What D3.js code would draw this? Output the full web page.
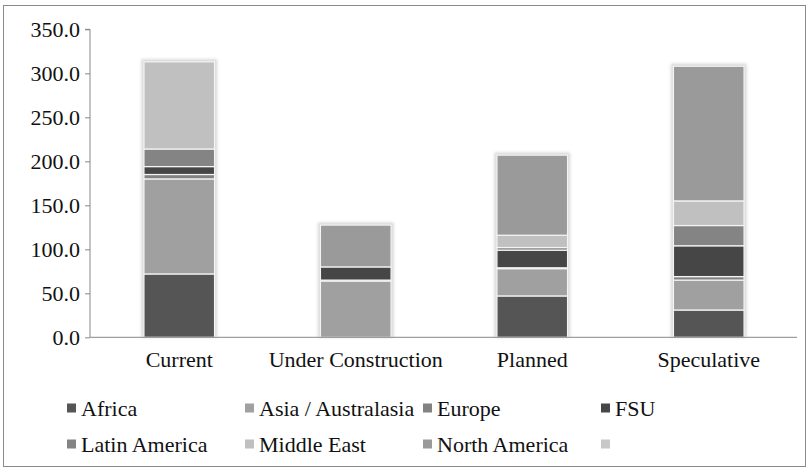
<!DOCTYPE html>
<html><head><meta charset="utf-8">
<script src="https://cdn.jsdelivr.net/npm/d3@7"></script>
<style>body{margin:0;background:#fff}svg{display:block}</style>
</head><body>
<svg id="c" width="809" height="470"></svg>
<script>
const categories = ["Current", "Under Construction", "Planned", "Speculative"];
const seriesNames = ["Africa", "Asia / Australasia", "Europe", "FSU", "Latin America", "Middle East", "North America", ""];
const africa = [72, 0, 47, 31];
const asia = [108, 64, 31, 34];
const europe = [5, 1, 1, 4];
const fsu = [9, 15, 20, 35];
const latinAmerica = [20, 0, 3, 23];
const middleEast = [99, 0, 14, 28];
const northAmerica = [0, 47.5, 91, 153];
const unnamed = [0, 0, 0, 0];
const yTicks = [0, 50, 100, 150, 200, 250, 300, 350];
const colors = ["#555555", "#a0a0a0", "#828282", "#464646", "#848484", "#c0c0c0", "#9a9a9a", "#c8c8c8"];

const seriesValues = [africa, asia, europe, fsu, latinAmerica, middleEast, northAmerica, unnamed];
const rows = categories.map((c, i) => {
  const o = {cat: c};
  seriesNames.forEach((s, j) => o["s" + j] = seriesValues[j][i]);
  return o;
});
const keys = seriesNames.map((s, j) => "s" + j);
const stacked = d3.stack().keys(keys)(rows);

const svg = d3.select("#c");
const fs = 22;
const FONT = '"Liberation Serif"';

svg.append("rect").attr("x", 3.5).attr("y", 5.5).attr("width", 802).attr("height", 461)
  .attr("fill", "#fff").attr("stroke", "#8a8a8a").attr("stroke-width", 1);

const x = d3.scaleBand().domain(categories).range([91, 797]).paddingInner(0.6).paddingOuter(0.3);
const y = d3.scaleLinear().domain([0, 350]).range([337.3, 29.3]);

const defs = svg.append("defs");
const f = defs.append("filter").attr("id", "glow").attr("x", "-20%").attr("y", "-20%").attr("width", "140%").attr("height", "140%");
f.append("feGaussianBlur").attr("stdDeviation", 1.6);

const totals = categories.map((c, i) => d3.sum(seriesValues, s => s[i]));
svg.append("g").selectAll("rect").data(categories).join("rect")
  .attr("x", d => x(d) - 2.5).attr("width", x.bandwidth() + 5)
  .attr("y", (d, i) => y(totals[i]) - 2.5)
  .attr("height", (d, i) => y(0) - y(totals[i]) + 2.5)
  .attr("fill", "#d6d6d6").attr("filter", "url(#glow)");

svg.append("g").selectAll("g").data(stacked).join("g")
  .attr("fill", (d, i) => colors[i])
  .selectAll("rect").data(d => d.filter(p => p[1] - p[0] > 0)).join("rect")
  .attr("x", d => x(d.data.cat)).attr("width", x.bandwidth())
  .attr("y", d => y(d[1])).attr("height", d => y(d[0]) - y(d[1]))
  .attr("stroke", "#f4f4f4").attr("stroke-width", 1.2);

const ya = svg.append("g").attr("transform", "translate(90,0)")
  .call(d3.axisLeft(y).tickValues(yTicks).tickFormat(d3.format(".1f")).tickSize(5).tickPadding(5));
ya.select(".domain").attr("stroke", "#888").attr("d", `M-5,${y(350)}H0V${y(0)}`);
ya.selectAll(".tick line").attr("stroke", "#888");
ya.selectAll("text").style("font-family", FONT).style("font-size", fs + "px").attr("fill", "#111");

const xa = svg.append("g").attr("transform", `translate(0,${y(0)})`)
  .call(d3.axisBottom(x).tickSize(0).tickPadding(14));
xa.select(".domain").attr("stroke", "#888").attr("d", "M90,0H797");
xa.selectAll("text").style("font-family", FONT).style("font-size", fs + "px").attr("fill", "#111");

const lg = svg.append("g");
const item = lg.selectAll("g").data(seriesNames).join("g")
  .attr("transform", (d, i) => `translate(${67 + (i % 4) * 178},${408 + Math.floor(i / 4) * 36})`);
item.append("rect").attr("x", 0).attr("y", -4.5).attr("width", 9).attr("height", 9)
  .attr("fill", (d, i) => colors[i]);
item.append("text").attr("x", 14).attr("y", 0).attr("dy", "0.35em")
  .style("font-family", FONT).style("font-size", fs + "px").attr("fill", "#111").text(d => d);
</script>
</body></html>
